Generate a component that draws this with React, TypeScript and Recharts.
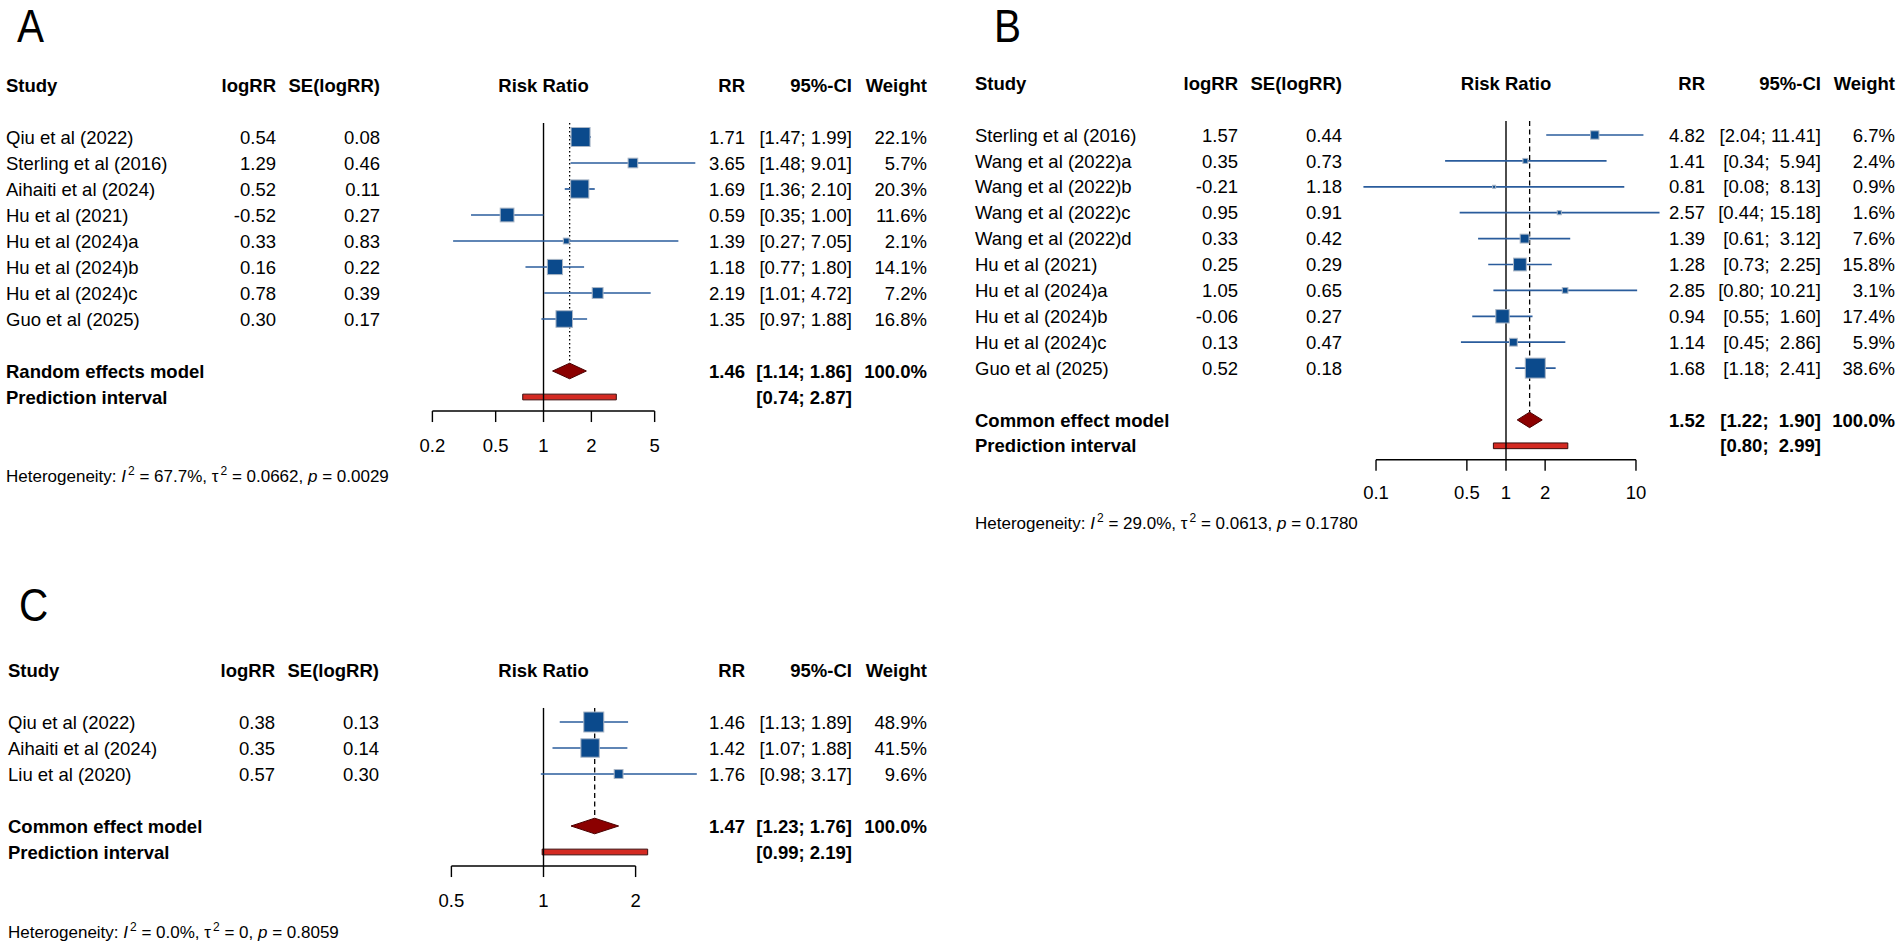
import React from 'react'
import { ComposedChart, XAxis, YAxis, Scatter, ErrorBar, Area, ReferenceLine, ReferenceArea } from 'recharts'

const W = 1902
const H = 947
const FONT = '"Liberation Sans", Arial, Helvetica, sans-serif'
const FS = 18.5

const SQ = '#0b4a8c'
const SQ_EDGE = '#aab6c6'
const CI_LINE = '#2a5c9c'
const DIAMOND = '#8b0000'
const DIAMOND_EDGE = '#4a0000'
const PRED = '#d42a22'
const PRED_EDGE = '#3a0c0c'

// ---- panel A
const studiesA = ['Qiu et al (2022)', 'Sterling et al (2016)', 'Aihaiti et al (2024)', 'Hu et al (2021)', 'Hu et al (2024)a', 'Hu et al (2024)b', 'Hu et al (2024)c', 'Guo et al (2025)']
const logRRA = [0.54, 1.29, 0.52, -0.52, 0.33, 0.16, 0.78, 0.3]
const seA = [0.08, 0.46, 0.11, 0.27, 0.83, 0.22, 0.39, 0.17]
const rrA = [1.71, 3.65, 1.69, 0.59, 1.39, 1.18, 2.19, 1.35]
const lowerA = [1.47, 1.48, 1.36, 0.35, 0.27, 0.77, 1.01, 0.97]
const upperA = [1.99, 9.01, 2.1, 1.0, 7.05, 1.8, 4.72, 1.88]
const weightA = [22.1, 5.7, 20.3, 11.6, 2.1, 14.1, 7.2, 16.8]
const pooledA = [1.46, 1.14, 1.86]
const predictionA = [0.74, 2.87]
const hetA = ['67.7%', '0.0662', '0.0029']
const ticksA = [0.2, 0.5, 1, 2, 5]

// ---- panel B
const studiesB = ['Sterling et al (2016)', 'Wang et al (2022)a', 'Wang et al (2022)b', 'Wang et al (2022)c', 'Wang et al (2022)d', 'Hu et al (2021)', 'Hu et al (2024)a', 'Hu et al (2024)b', 'Hu et al (2024)c', 'Guo et al (2025)']
const logRRB = [1.57, 0.35, -0.21, 0.95, 0.33, 0.25, 1.05, -0.06, 0.13, 0.52]
const seB = [0.44, 0.73, 1.18, 0.91, 0.42, 0.29, 0.65, 0.27, 0.47, 0.18]
const rrB = [4.82, 1.41, 0.81, 2.57, 1.39, 1.28, 2.85, 0.94, 1.14, 1.68]
const lowerB = [2.04, 0.34, 0.08, 0.44, 0.61, 0.73, 0.8, 0.55, 0.45, 1.18]
const upperB = [11.41, 5.94, 8.13, 15.18, 3.12, 2.25, 10.21, 1.6, 2.86, 2.41]
const weightB = [6.7, 2.4, 0.9, 1.6, 7.6, 15.8, 3.1, 17.4, 5.9, 38.6]
const pooledB = [1.52, 1.22, 1.9]
const predictionB = [0.8, 2.99]
const hetB = ['29.0%', '0.0613', '0.1780']
const ticksB = [0.1, 0.5, 1, 2, 10]

// ---- panel C
const studiesC = ['Qiu et al (2022)', 'Aihaiti et al (2024)', 'Liu et al (2020)']
const logRRC = [0.38, 0.35, 0.57]
const seC = [0.13, 0.14, 0.3]
const rrC = [1.46, 1.42, 1.76]
const lowerC = [1.13, 1.07, 0.98]
const upperC = [1.89, 1.88, 3.17]
const weightC = [48.9, 41.5, 9.6]
const pooledC = [1.47, 1.23, 1.76]
const predictionC = [0.99, 2.19]
const hetC = ['0.0%', '0', '0.8059']
const ticksC = [0.5, 1, 2]

interface PanelData {
  studies: string[]
  logRR: number[]
  se: number[]
  rr: number[]
  lower: number[]
  upper: number[]
  weight: number[]
  pooled: number[]
  prediction: number[]
  modelLabel: string
  ticks: number[]
}

interface Layout {
  domain: [number, number]
  plotLeft: number
  plotRight: number
  row0: number
  rowH: number
  center: number
  cols: { study: number; logRR: number; se: number; rr: number; ci: number; weight: number }
  maxSide: number
  dash: string
  tickMargin: number
}

interface Row {
  bold?: boolean
  study?: string
  logRR?: string
  se?: string
  mid?: string
  rr?: string
  ci?: string
  weight?: string
}

function Forest({ p, l }: { p: PanelData; l: Layout }) {
  const n = p.studies.length
  const modelRow = n + 1
  const predRow = n + 2
  const axisRow = n + 2.54
  const topRow = -2.5
  const plotTop = l.row0 + topRow * l.rowH
  const plotBottom = l.row0 + axisRow * l.rowH
  const XH = 60
  const maxW = Math.max(...p.weight)

  // R pads the CI strings so the columns line up
  const los = [...p.lower, p.pooled[1], p.prediction[0]]
  const his = [...p.upper, p.pooled[2], p.prediction[1]]
  const loW = Math.max(...los.map((v) => v.toFixed(2).length))
  const hiW = Math.max(...his.map((v) => v.toFixed(2).length))
  const ci = (lo: number, hi: number) => `[${lo.toFixed(2).padStart(loW)}; ${hi.toFixed(2).padStart(hiW)}]`

  const rows = new Map<number, Row>()
  rows.set(-2, { bold: true, study: 'Study', logRR: 'logRR', se: 'SE(logRR)', mid: 'Risk Ratio', rr: 'RR', ci: '95%-CI', weight: 'Weight' })
  p.studies.forEach((s, i) =>
    rows.set(i, {
      study: s,
      logRR: p.logRR[i].toFixed(2),
      se: p.se[i].toFixed(2),
      rr: p.rr[i].toFixed(2),
      ci: ci(p.lower[i], p.upper[i]),
      weight: p.weight[i].toFixed(1) + '%',
    })
  )
  rows.set(modelRow, { bold: true, study: p.modelLabel, rr: p.pooled[0].toFixed(2), ci: ci(p.pooled[1], p.pooled[2]), weight: '100.0%' })
  rows.set(predRow, { bold: true, study: 'Prediction interval', ci: ci(p.prediction[0], p.prediction[1]) })

  const RowTick = (props: any) => {
    const r = rows.get(props.payload.value)
    if (!r) return <g />
    const y = props.y
    const t = (x: number, s: string | undefined, anchor: 'start' | 'middle' | 'end') =>
      s ? (
        <text x={x} y={y} dy="0.36em" textAnchor={anchor} fontSize={FS} fontFamily={FONT}
          fontWeight={r.bold ? 700 : 400} fill="#000" style={{ whiteSpace: 'pre' }}>
          {s}
        </text>
      ) : null
    return (
      <g>
        {t(l.cols.study, r.study, 'start')}
        {t(l.cols.logRR, r.logRR, 'end')}
        {t(l.cols.se, r.se, 'end')}
        {t(l.center, r.mid, 'middle')}
        {t(l.cols.rr, r.rr, 'end')}
        {t(l.cols.ci, r.ci, 'end')}
        {t(l.cols.weight, r.weight, 'end')}
      </g>
    )
  }

  const points = p.studies.map((s, i) => ({
    name: s,
    x: p.rr[i],
    y: i,
    w: p.weight[i],
    err: [p.rr[i] - p.lower[i], p.upper[i] - p.rr[i]],
  }))

  const diamond = [
    { x: p.pooled[1], band: [modelRow, modelRow] },
    { x: p.pooled[0], band: [modelRow - 0.3, modelRow + 0.3] },
    { x: p.pooled[2], band: [modelRow, modelRow] },
  ]

  // square area proportional to study weight
  const squareShape = (props: any) => {
    const s = Math.max(2.5, l.maxSide * Math.sqrt(props.payload.w / maxW))
    return <rect x={props.cx - s / 2} y={props.cy - s / 2} width={s} height={s} fill={SQ} stroke={SQ_EDGE} strokeWidth={1} />
  }

  return (
    <div style={{ position: 'absolute', left: 0, top: 0 }}>
      <ComposedChart
        width={W}
        height={H}
        margin={{ top: plotTop, right: W - l.plotRight, bottom: H - plotBottom - XH, left: 0 }}
      >
        <XAxis
          type="number"
          dataKey="x"
          scale="log"
          domain={l.domain}
          allowDataOverflow
          ticks={p.ticks}
          interval={0}
          axisLine={false}
          tickLine={{ stroke: '#000', strokeWidth: 1.4 }}
          tickSize={11}
          tickMargin={l.tickMargin}
          height={XH}
          tick={{ fill: '#000', fontSize: FS, fontFamily: FONT }}
        />
        <YAxis
          type="number"
          dataKey="y"
          domain={[topRow, axisRow]}
          reversed
          allowDataOverflow
          ticks={[...rows.keys()]}
          interval={0}
          axisLine={false}
          tickLine={false}
          width={l.plotLeft}
          tick={(props: any) => <RowTick {...props} />}
        />
        <ReferenceLine
          segment={[{ x: p.ticks[0], y: axisRow }, { x: p.ticks[p.ticks.length - 1], y: axisRow }]}
          stroke="#000" strokeWidth={1.4} ifOverflow="visible"
        />
        <ReferenceLine
          segment={[{ x: 1, y: -0.54 }, { x: 1, y: axisRow }]}
          stroke="#000" strokeWidth={1.4} ifOverflow="visible"
        />
        <ReferenceLine
          segment={[{ x: p.pooled[0], y: -0.54 }, { x: p.pooled[0], y: modelRow - 0.3 }]}
          stroke="#000" strokeWidth={1.3} strokeDasharray={l.dash} ifOverflow="visible"
        />
        <ReferenceArea
          x1={p.prediction[0]} x2={p.prediction[1]} y1={predRow - 0.11} y2={predRow + 0.11}
          fill={PRED} fillOpacity={1} stroke={PRED_EDGE} strokeWidth={1} ifOverflow="visible"
        />
        <Area
          data={diamond}
          dataKey="band"
          type="linear"
          fill={DIAMOND}
          fillOpacity={1}
          stroke={DIAMOND_EDGE}
          strokeWidth={1}
          dot={false}
          activeDot={false}
          isAnimationActive={false}
        />
        <Scatter data={points} shape={squareShape} isAnimationActive={false}>
          <ErrorBar dataKey="err" direction="x" width={0} stroke={CI_LINE} strokeWidth={1.7} />
        </Scatter>
      </ComposedChart>
    </div>
  )
}

function Het({ x, y, v }: { x: number; y: number; v: string[] }) {
  return (
    <text x={x} y={y} dy="0.36em" fontSize={17} fontFamily={FONT} fill="#000">
      {'Heterogeneity: '}
      <tspan fontStyle="italic">I</tspan>
      <tspan dx={2} dy={-7} fontSize={12}>2</tspan>
      <tspan dy={7}>{` = ${v[0]}, \u03c4`}</tspan>
      <tspan dx={2} dy={-7} fontSize={12}>2</tspan>
      <tspan dy={7}>{` = ${v[1]}, `}</tspan>
      <tspan fontStyle="italic">p</tspan>
      <tspan>{` = ${v[2]}`}</tspan>
    </text>
  )
}

function Letter({ x, y, s }: { x: number; y: number; s: string }) {
  return (
    <text x={0} y={0} fontSize={46} fontFamily={FONT} fill="#000" transform={`translate(${x},${y}) scale(0.88,1)`}>
      {s}
    </text>
  )
}

const panelA: PanelData = {
  studies: studiesA, logRR: logRRA, se: seA, rr: rrA, lower: lowerA, upper: upperA, weight: weightA,
  pooled: pooledA, prediction: predictionA, modelLabel: 'Random effects model', ticks: ticksA,
}
const panelB: PanelData = {
  studies: studiesB, logRR: logRRB, se: seB, rr: rrB, lower: lowerB, upper: upperB, weight: weightB,
  pooled: pooledB, prediction: predictionB, modelLabel: 'Common effect model', ticks: ticksB,
}
const panelC: PanelData = {
  studies: studiesC, logRR: logRRC, se: seC, rr: rrC, lower: lowerC, upper: upperC, weight: weightC,
  pooled: pooledC, prediction: predictionC, modelLabel: 'Common effect model', ticks: ticksC,
}

const layoutA: Layout = {
  domain: [0.2, 10], plotLeft: 432.4, plotRight: 702.5, row0: 137, rowH: 26, center: 543.5,
  cols: { study: 6, logRR: 276, se: 380, rr: 745, ci: 852, weight: 927 },
  maxSide: 19, dash: '1.6 2.4', tickMargin: 16.5,
}
const layoutB: Layout = {
  domain: [0.05, 20], plotLeft: 1336.9, plotRight: 1675.1, row0: 135, rowH: 25.9, center: 1506,
  cols: { study: 975, logRR: 1238, se: 1342, rr: 1705, ci: 1821, weight: 1895 },
  maxSide: 20, dash: '5 3.5', tickMargin: 15.5,
}
const layoutC: Layout = {
  domain: [0.5, 4], plotLeft: 451.4, plotRight: 727.7, row0: 722, rowH: 26, center: 543.5,
  cols: { study: 8, logRR: 275, se: 379, rr: 745, ci: 852, weight: 927 },
  maxSide: 20, dash: '5 3.5', tickMargin: 16.5,
}

export default function App(): React.ReactElement {
  return (
    <div style={{ position: 'absolute', left: 0, top: 0, width: W, height: H, background: '#fff', overflow: 'hidden' }}>
      <Forest p={panelA} l={layoutA} />
      <Forest p={panelB} l={layoutB} />
      <Forest p={panelC} l={layoutC} />
      <svg width={W} height={H} style={{ position: 'absolute', left: 0, top: 0, pointerEvents: 'none' }}>
        <Letter x={17} y={42} s="A" />
        <Letter x={994} y={42} s="B" />
        <Letter x={19} y={621} s="C" />
        <Het x={6} y={476} v={hetA} />
        <Het x={975} y={523} v={hetB} />
        <Het x={8} y={932} v={hetC} />
      </svg>
    </div>
  )
}
